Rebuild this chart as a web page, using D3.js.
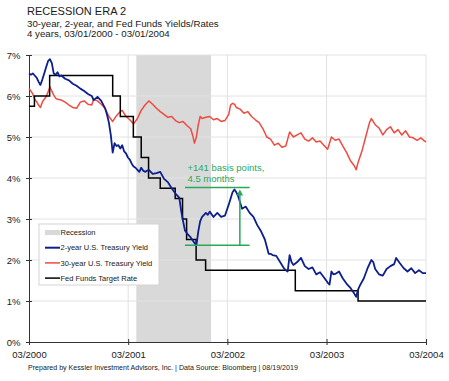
<!DOCTYPE html>
<html><head><meta charset="utf-8">
<script src="https://cdn.jsdelivr.net/npm/d3@7"></script>
<style>
body{margin:0;background:#fff;font-family:"Liberation Sans",Arial,sans-serif}
svg{display:block}
</style></head><body>
<div id="chart"></div>
<script>
const title = "RECESSION ERA 2";
const subtitles = ["30-year, 2-year, and Fed Funds Yields/Rates", "4 years, 03/01/2000 - 03/01/2004"];
const footer = "Prepared by Kessler Investment Advisors, Inc. | Data Source: Bloomberg | 08/19/2019";
const xTicks = ["2000-03-01","2001-03-01","2002-03-01","2003-03-01","2004-03-01"];
const yTicks = [0,1,2,3,4,5,6,7];
const recession = ["2001-03-31","2001-12-31"];
const legendLabels = ["Recession","2-year U.S. Treasury Yield","30-year U.S. Treasury Yield","Fed Funds Target Rate"];

const fedFunds = [
  ["2000-03-01",5.75],["2000-03-21",6.00],["2000-05-16",6.50],["2001-01-03",6.00],["2001-01-31",5.50],
  ["2001-03-20",5.00],["2001-04-18",4.50],["2001-05-15",4.00],["2001-06-27",3.75],["2001-08-21",3.50],
  ["2001-09-17",3.00],["2001-10-02",2.50],["2001-11-06",2.00],["2001-12-11",1.75],["2002-11-06",1.25],
  ["2003-06-25",1.00],["2004-03-01",1.00]
];

const twoYear = [
  ["2000-03-01",6.55],["2000-03-08",6.52],["2000-03-15",6.55],["2000-03-22",6.50],["2000-03-29",6.45],
  ["2000-04-05",6.35],["2000-04-12",6.27],["2000-04-19",6.40],["2000-04-26",6.55],["2000-05-03",6.70],
  ["2000-05-10",6.85],["2000-05-17",6.90],["2000-05-24",6.80],["2000-05-31",6.55],["2000-06-07",6.52],
  ["2000-06-14",6.58],["2000-06-21",6.48],["2000-06-28",6.50],["2000-07-12",6.42],["2000-07-26",6.38],
  ["2000-08-09",6.30],["2000-08-23",6.25],["2000-09-06",6.18],["2000-09-20",6.12],["2000-10-04",6.05],
  ["2000-10-18",6.00],["2000-10-25",5.90],["2000-11-08",5.98],["2000-11-22",5.88],["2000-12-06",5.70],
  ["2000-12-13",5.55],["2000-12-20",5.35],["2000-12-27",5.05],["2001-01-03",4.62],["2001-01-10",4.85],
  ["2001-01-17",4.78],["2001-01-24",4.80],["2001-01-31",4.72],["2001-02-07",4.80],["2001-02-14",4.65],
  ["2001-02-21",4.60],["2001-02-28",4.50],["2001-03-07",4.45],["2001-03-14",4.35],["2001-03-21",4.28],
  ["2001-03-28",4.25],["2001-04-04",4.20],["2001-04-11",4.15],["2001-04-18",4.25],["2001-04-25",4.18],
  ["2001-05-02",4.15],["2001-05-16",4.20],["2001-05-30",4.10],["2001-06-13",4.12],["2001-06-27",4.15],
  ["2001-07-11",3.98],["2001-07-25",3.90],["2001-08-08",3.75],["2001-08-22",3.62],["2001-09-05",3.52],
  ["2001-09-12",3.20],["2001-09-19",2.95],["2001-09-26",2.72],["2001-10-03",2.65],["2001-10-17",2.55],
  ["2001-10-24",2.48],["2001-11-07",2.35],["2001-11-14",2.70],["2001-11-21",2.95],["2001-11-28",3.05],
  ["2001-12-05",3.10],["2001-12-12",3.15],["2001-12-19",3.10],["2001-12-26",3.18],["2002-01-09",3.05],
  ["2002-01-23",3.15],["2002-02-06",3.05],["2002-02-20",3.08],["2002-03-06",3.35],["2002-03-13",3.50],
  ["2002-03-20",3.65],["2002-03-27",3.72],["2002-04-03",3.65],["2002-04-10",3.55],["2002-04-17",3.40],
  ["2002-04-24",3.25],["2002-05-01",3.28],["2002-05-08",3.30],["2002-05-22",3.15],["2002-06-05",3.05],
  ["2002-06-19",2.85],["2002-07-03",2.70],["2002-07-17",2.50],["2002-07-31",2.15],["2002-08-07",2.15],
  ["2002-08-14",2.12],["2002-08-28",2.10],["2002-09-11",1.95],["2002-09-25",1.80],["2002-10-02",1.75],
  ["2002-10-09",1.72],["2002-10-16",2.12],["2002-10-23",1.95],["2002-10-30",1.88],["2002-11-13",1.95],
  ["2002-11-27",2.05],["2002-12-11",1.85],["2002-12-25",1.78],["2003-01-08",1.82],["2003-01-22",1.65],
  ["2003-02-05",1.70],["2003-02-19",1.58],["2003-03-05",1.45],["2003-03-12",1.40],["2003-03-19",1.72],
  ["2003-03-26",1.65],["2003-04-02",1.66],["2003-04-16",1.72],["2003-04-30",1.55],["2003-05-14",1.42],
  ["2003-05-28",1.32],["2003-06-11",1.18],["2003-06-18",1.10],["2003-06-25",1.28],["2003-07-02",1.38],
  ["2003-07-16",1.55],["2003-07-30",1.80],["2003-08-13",2.00],["2003-08-20",1.95],["2003-08-27",1.78],
  ["2003-09-10",1.65],["2003-09-24",1.62],["2003-10-08",1.78],["2003-10-22",1.85],["2003-11-05",1.90],
  ["2003-11-12",2.05],["2003-11-26",1.92],["2003-12-10",1.80],["2003-12-24",1.72],["2004-01-07",1.80],
  ["2004-01-21",1.68],["2004-02-04",1.75],["2004-02-18",1.68],["2004-03-01",1.68]
];

const thirtyYear = [
  ["2000-03-01",6.18],["2000-03-08",6.12],["2000-03-15",6.05],["2000-03-22",5.92],["2000-03-29",5.86],
  ["2000-04-05",5.78],["2000-04-12",5.72],["2000-04-19",5.85],["2000-04-26",5.92],["2000-05-03",5.98],
  ["2000-05-10",6.10],["2000-05-17",6.22],["2000-05-24",6.12],["2000-05-31",6.02],["2000-06-07",5.95],
  ["2000-06-14",5.92],["2000-06-28",5.90],["2000-07-12",5.85],["2000-07-26",5.78],["2000-08-09",5.72],
  ["2000-08-23",5.70],["2000-09-06",5.85],["2000-09-20",5.88],["2000-10-04",5.80],["2000-10-18",5.78],
  ["2000-10-25",5.92],["2000-11-08",5.88],["2000-11-22",5.80],["2000-12-06",5.70],["2000-12-20",5.50],
  ["2001-01-03",5.38],["2001-01-17",5.52],["2001-01-31",5.62],["2001-02-07",5.65],["2001-02-21",5.50],
  ["2001-03-07",5.42],["2001-03-21",5.32],["2001-04-04",5.45],["2001-04-18",5.65],["2001-05-02",5.78],
  ["2001-05-16",5.88],["2001-05-30",5.80],["2001-06-13",5.70],["2001-06-27",5.62],["2001-07-11",5.55],
  ["2001-07-25",5.48],["2001-08-08",5.50],["2001-08-22",5.40],["2001-09-05",5.35],["2001-09-19",5.38],
  ["2001-10-03",5.28],["2001-10-17",5.20],["2001-10-24",5.05],["2001-10-31",4.85],["2001-11-07",5.00],
  ["2001-11-14",5.30],["2001-11-21",5.50],["2001-11-28",5.45],["2001-12-12",5.48],["2001-12-26",5.50],
  ["2002-01-09",5.42],["2002-01-23",5.45],["2002-02-06",5.38],["2002-02-20",5.40],["2002-03-06",5.55],
  ["2002-03-13",5.78],["2002-03-20",5.82],["2002-03-27",5.80],["2002-04-03",5.72],["2002-04-17",5.68],
  ["2002-05-01",5.58],["2002-05-15",5.62],["2002-05-29",5.50],["2002-06-12",5.42],["2002-06-26",5.35],
  ["2002-07-10",5.20],["2002-07-24",5.00],["2002-08-07",4.95],["2002-08-21",4.80],["2002-09-04",4.85],
  ["2002-09-18",4.75],["2002-10-02",4.78],["2002-10-16",5.12],["2002-10-30",5.00],["2002-11-13",5.05],
  ["2002-11-27",5.10],["2002-12-11",4.95],["2002-12-25",4.90],["2003-01-08",4.98],["2003-01-22",4.88],
  ["2003-02-05",4.90],["2003-02-19",4.80],["2003-03-05",4.70],["2003-03-19",5.00],["2003-04-02",4.92],
  ["2003-04-16",4.95],["2003-04-30",4.78],["2003-05-14",4.62],["2003-05-28",4.42],["2003-06-11",4.30],
  ["2003-06-18",4.20],["2003-06-25",4.38],["2003-07-09",4.65],["2003-07-23",5.00],["2003-08-06",5.35],
  ["2003-08-13",5.45],["2003-08-27",5.30],["2003-09-10",5.22],["2003-09-24",5.05],["2003-10-08",5.18],
  ["2003-10-22",5.25],["2003-11-05",5.10],["2003-11-19",5.18],["2003-12-03",5.05],["2003-12-17",5.15],
  ["2003-12-31",5.00],["2004-01-14",4.98],["2004-01-28",4.92],["2004-02-11",4.98],["2004-02-25",4.90],
  ["2004-03-01",4.88]
];

// +141bp move, Nov 2001 low to Apr 2002 high
const annoSpan = ["2001-09-26","2002-05-22"];
const annoArrowAt = "2002-04-16";
const annoLevels = [2.36,3.77];
const annoText = ["+141 basis points,","4.5 months"];

const W=449, H=381;
const C={blue:'#0c1f8c', red:'#ef4a3f', black:'#000', green:'#2aa85a', rec:'#d9d9d9', grid:'#e2e2e2', ink:'#1a1a1a'};
const parse=d3.timeParse('%Y-%m-%d');
const svg=d3.select('#chart').append('svg').attr('width',W).attr('height',H);

const x=d3.scaleTime().domain([parse(xTicks[0]),parse(xTicks[xTicks.length-1])]).range([29,426]);
const y=d3.scaleLinear().domain([0,7]).range([342,55]);

// titles
svg.append('text').attr('x',27).attr('y',15).attr('font-size',11).attr('fill',C.ink).text(title);
svg.selectAll('.sub').data(subtitles).join('text').attr('class','sub')
  .attr('x',27).attr('y',(d,i)=>26.5+i*10).attr('font-size',9.7).attr('fill',C.ink).text(d=>d);

// recession band
svg.append('rect')
  .attr('x',x(parse(recession[0]))).attr('y',y(7))
  .attr('width',x(parse(recession[1]))-x(parse(recession[0])))
  .attr('height',y(0)-y(7)).attr('fill',C.rec);

// grid
svg.append('g').selectAll('line').data(yTicks.filter(d=>d>0)).join('line')
  .attr('x1',x.range()[0]).attr('x2',x.range()[1]).attr('y1',d=>y(d)).attr('y2',d=>y(d))
  .attr('stroke',C.grid).attr('stroke-width',1);
svg.append('g').selectAll('line').data(xTicks.slice(1)).join('line')
  .attr('x1',d=>x(parse(d))).attr('x2',d=>x(parse(d))).attr('y1',y(7)).attr('y2',y(0))
  .attr('stroke',C.grid).attr('stroke-width',1);

// axes
const yAx=svg.append('g').attr('transform',`translate(${x.range()[0]},0)`)
  .call(d3.axisLeft(y).tickValues(yTicks).tickFormat(d=>d+'%').tickSizeOuter(0));
yAx.select('.domain').attr('stroke','#333');
yAx.selectAll('.tick line').attr('x1',3).attr('x2',-3).attr('stroke','#333');
yAx.selectAll('.tick text').attr('x',-8.5).attr('font-size',9.5).attr('fill',C.ink)
  .attr('font-family','"Liberation Sans",Arial,sans-serif');

const xAx=svg.append('g').attr('transform',`translate(0,${y(0)})`)
  .call(d3.axisBottom(x).tickValues(xTicks.map(parse)).tickFormat(d3.timeFormat('%m/%Y')).tickSizeOuter(0));
xAx.select('.domain').attr('stroke','#333');
xAx.selectAll('.tick line').attr('y1',-3).attr('y2',3).attr('stroke','#333');
xAx.selectAll('.tick text').attr('y',16).attr('dy',null).attr('font-size',9.5).attr('fill',C.ink)
  .attr('font-family','"Liberation Sans",Arial,sans-serif');

// series
const line=d3.line().x(d=>x(parse(d[0]))).y(d=>y(d[1]));
svg.append('path').datum(thirtyYear).attr('d',line).attr('fill','none')
  .attr('stroke',C.red).attr('stroke-width',1.5).attr('stroke-linejoin','round');
svg.append('path').datum(fedFunds).attr('d',line.curve(d3.curveStepAfter)).attr('fill','none')
  .attr('stroke',C.black).attr('stroke-width',1.5);
line.curve(d3.curveLinear);
svg.append('path').datum(twoYear).attr('d',line).attr('fill','none')
  .attr('stroke',C.blue).attr('stroke-width',1.8).attr('stroke-linejoin','round');

// annotation
const ag=svg.append('g').attr('stroke',C.green).attr('stroke-width',1.5);
ag.selectAll('line.h').data(annoLevels).join('line').attr('class','h')
  .attr('x1',x(parse(annoSpan[0]))).attr('x2',x(parse(annoSpan[1])))
  .attr('y1',d=>y(d)).attr('y2',d=>y(d));
const ax=x(parse(annoArrowAt));
ag.append('line').attr('x1',ax).attr('x2',ax).attr('y1',y(annoLevels[0])).attr('y2',y(annoLevels[1])+6);
ag.append('path').attr('stroke','none').attr('fill',C.green)
  .attr('d',`M${ax},${y(annoLevels[1])+2}L${ax-3.2},${y(annoLevels[1])+8}L${ax+3.2},${y(annoLevels[1])+8}Z`);
svg.selectAll('.anno').data(annoText).join('text').attr('class','anno')
  .attr('x',x(parse(annoSpan[0]))+2.5).attr('y',(d,i)=>y(annoLevels[1])-16.5+i*11.5)
  .attr('font-size',9.5).attr('fill',C.green).text(d=>d);

// legend
const lg=svg.append('g').attr('transform','translate(39,224)');
lg.append('rect').attr('width',120).attr('height',61).attr('fill','#fff').attr('stroke','#d4d4d4');
const sw=[{c:C.rec,w:5},{c:C.blue,w:2},{c:C.red,w:1.5},{c:C.black,w:1.5}];
const li=lg.selectAll('g.it').data(legendLabels).join('g').attr('class','it')
  .attr('transform',(d,i)=>`translate(0,${8.5+i*15.2})`);
li.append('line').attr('x1',6).attr('x2',21).attr('stroke',(d,i)=>sw[i].c).attr('stroke-width',(d,i)=>sw[i].w);
li.append('text').attr('x',21.5).attr('dy','0.35em').attr('font-size',7.5).attr('fill',C.ink).text(d=>d);

// footer
svg.append('text').attr('x',28).attr('y',370).attr('font-size',7.1).attr('fill',C.ink).text(footer);
</script>
</body></html>
